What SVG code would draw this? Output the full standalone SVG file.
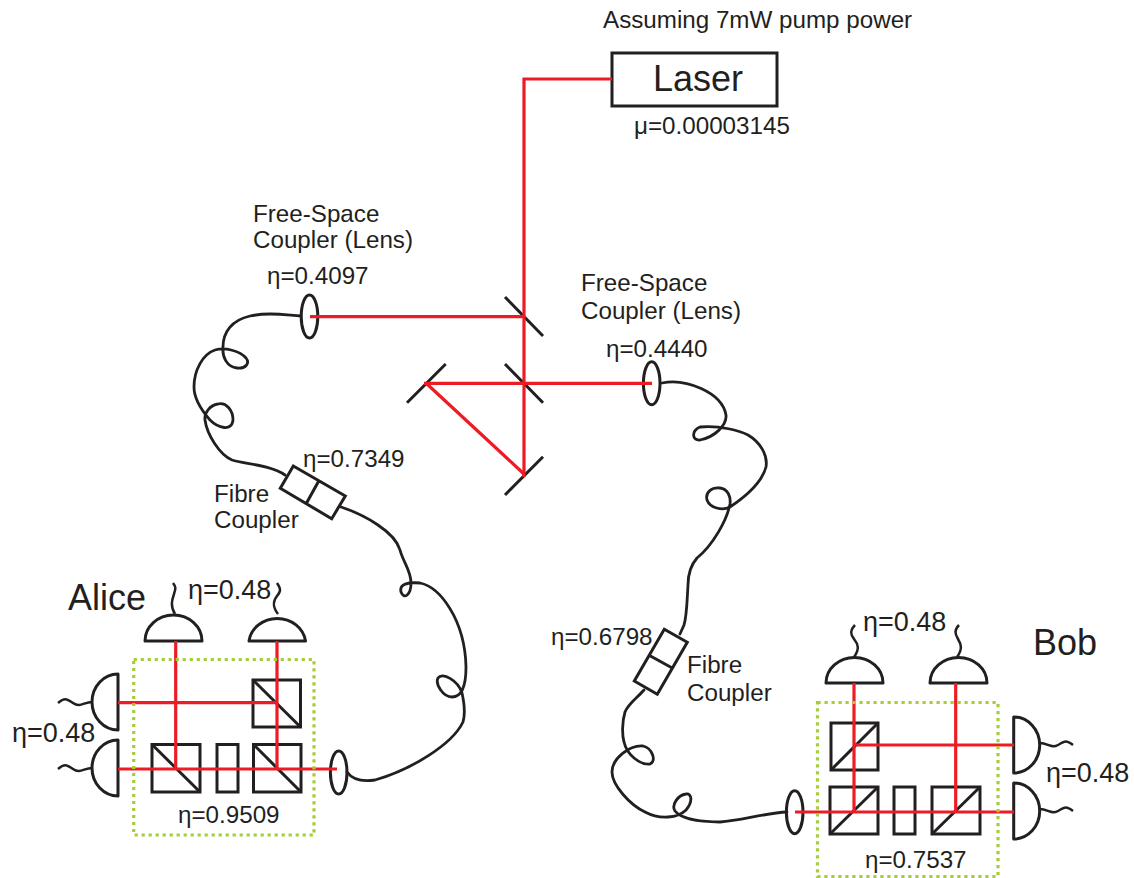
<svg xmlns="http://www.w3.org/2000/svg" width="1134" height="878" viewBox="0 0 1134 878">
<style>
text{font-family:"Liberation Sans",Arial,sans-serif;fill:#231f20;font-size:24.2px}
.big{font-size:36px}
.mid{font-size:27px}
.k{fill:none;stroke:#231f20;stroke-width:3px}
.d{fill:#fff;stroke:#231f20;stroke-width:3px;stroke-linejoin:round}
.w{fill:none;stroke:#231f20;stroke-width:2.5px}
.f{fill:none;stroke:#231f20;stroke-width:2.8px;stroke-linecap:round}
.r{fill:none;stroke:#ed1c24;stroke-width:3.2px}
.g{fill:none;stroke:#a6ce39;stroke-width:3.2px;stroke-dasharray:3.2 3.8}
</style>
<g id="fibres">
<path class="f" d="M301,316 C285,315 268,312 250,316 C232,320 223,332 223,347 C222,357 227,367 237,368 C246,369 250,363 246,358 C240,351 225,347 215,350 C203,354 194,370 194,387 C194,400 203,412 210,420 C218,428 232,432 233,420 C233,410 226,402 218,404 C210,405 204,413 205,420 C207,435 220,455 232,460 C245,464 270,465 285,475"/>
<path class="f" d="M341,507 C365,515 395,532 400,550 C403,562 411,570 411,583 C411,595 404,600 401,592 C399,584 408,582 420,583 C440,587 465,620 466,667 C466,685 462,697 452,697 C443,697 435,684 438,678 C442,672 458,680 462,693 C464,702 466,712 463,722 C452,745 410,770 375,780 C362,782 352,779 347,772"/>
<path class="f" d="M662,383 C685,378 722,392 726,415 C727,425 715,437 700,440 C692,441 691,431 700,427 C720,425 740,431 748,435 C760,442 768,455 766,467 C762,482 745,497 730,507 C722,511 710,508 707,500 C705,492 712,487 720,488 C728,489 731,497 730,504 C727,520 713,545 697,558 C690,566 688,575 688,585 C687,600 687,615 684,625 L680,634"/>
<path class="f" d="M644,690 C638,697 628,704 625,712 C622,722 622,735 624,742 C627,755 640,765 650,764 C657,761 652,748 643,746 C630,745 612,758 612,772 C612,785 630,805 645,812 C660,820 678,818 686,810 C693,802 692,793 686,794 C678,795 671,805 675,811 C682,820 705,822 720,822 C740,821 765,813 787,812"/>
</g>
<g id="laser"><rect class="k" x="612" y="53" width="165" height="53"/><text class="big" x="653" y="91">Laser</text></g>
<g id="lens-a"><ellipse class="k" cx="309.5" cy="316.5" rx="8.3" ry="21.5"/></g>
<g id="lens-b"><ellipse class="k" cx="651.7" cy="383.3" rx="8.3" ry="21.5"/></g>
<g id="lens-c"><ellipse class="k" cx="338.7" cy="772.5" rx="8.3" ry="21.5"/></g>
<g id="lens-d"><ellipse class="k" cx="794.7" cy="812.2" rx="8.3" ry="21.5"/></g>
<g id="mirrors">
<path class="k" d="M505,297 L543,336"/>
<path class="k" d="M505,364 L543,402.7"/>
<path class="k" d="M407,402.7 L445.7,364"/>
<path class="k" d="M505,495 L543,456.7"/>
</g>
<g id="coupler-a"><path class="k" d="M293.3,466 L345.3,496 L331.7,518.7 L280.3,488.3 Z M318.3,481.7 L306.7,502.7"/></g>
<g id="coupler-b"><path class="k" d="M664.3,629.3 L687.3,642.3 L657.3,694.3 L634.3,681 Z M650,655.7 L672.7,668.3"/></g>
<g id="alice-optics">
<rect class="k" x="253" y="680" width="47.5" height="47"/><path class="k" d="M253,680 L300.5,727"/>
<rect class="k" x="152" y="744.5" width="48" height="47.5"/><path class="k" d="M152,744.5 L200,792"/>
<rect class="k" x="217" y="744.5" width="21" height="47.5"/>
<rect class="k" x="253.5" y="744.5" width="47.5" height="47.5"/><path class="k" d="M253.5,744.5 L301,792"/>
</g>
<g id="bob-optics">
<rect class="k" x="831" y="723" width="47" height="47"/><path class="k" d="M831,770 L878,723"/>
<rect class="k" x="830" y="787" width="48" height="47"/><path class="k" d="M830,834 L878,787"/>
<rect class="k" x="894" y="787" width="21" height="47"/>
<rect class="k" x="932" y="787" width="48" height="47"/><path class="k" d="M932,834 L980,787"/>
</g>
<g id="alice-detectors">
<path class="d" d="M145,641 A28.5,26 0 0 1 202,641 Z"/><path class="w" d="M175,614 C170,606 172,600 174,594 S176,587 173,583"/>
<path class="d" d="M249,641 A28.5,26 0 0 1 305.5,641 Z"/><path class="w" d="M278,614 C272,606 273,601 277,596 S281,589 277,583"/>
<path class="d" d="M118,674 A26,28 0 0 0 118,730 Z"/><path class="w" d="M92,702 C84,702 80,708 73,703 S64,698 58,703"/>
<path class="d" d="M118,740 A26,28 0 0 0 118,796 Z"/><path class="w" d="M92,768 C84,768 80,774 73,769 S64,764 58,769"/>
</g>
<g id="bob-detectors">
<path class="d" d="M826,683 A28.5,25.5 0 0 1 883,683 Z"/><path class="w" d="M854,657 C860,649 858,644 854,639 S850,630 855,625"/>
<path class="d" d="M930,683 A28.5,25.5 0 0 1 987,683 Z"/><path class="w" d="M957,657 C963,649 961,644 958,639 S954,630 959,625"/>
<path class="d" d="M1013.7,717 A26,28 0 0 1 1013.7,773 Z"/><path class="w" d="M1040,743 C1048,743 1051,749 1058,745 S1066,740 1073,745"/>
<path class="d" d="M1013.7,783 A26,28 0 0 1 1013.7,839 Z"/><path class="w" d="M1040,809 C1048,809 1051,815 1058,811 S1066,806 1073,811"/>
</g>
<g id="beams">
<path class="r" d="M612,79 H524 V477"/>
<path class="r" d="M310,316.7 H524"/>
<path class="r" d="M424,383.3 H652"/>
<path class="r" d="M427,384 L524,474"/>
<path class="r" d="M175.7,641 V769"/>
<path class="r" d="M277,641 V769"/>
<path class="r" d="M118,702.7 H277"/>
<path class="r" d="M118,769 H337"/>
<path class="r" d="M854,683 V812"/>
<path class="r" d="M955.7,683 V812"/>
<path class="r" d="M854,745 H1014"/>
<path class="r" d="M795,812 H1014"/>
</g>
<g id="alice-box"><rect class="g" x="133.7" y="659.5" width="180.3" height="175.5"/></g>
<g id="bob-box"><rect class="g" x="817.5" y="702.5" width="180.5" height="174"/></g>
<g id="labels">
<text x="603" y="28">Assuming 7mW pump power</text>
<text x="634" y="134">μ=0.00003145</text>
<text x="253" y="222">Free-Space</text>
<text x="253" y="248">Coupler (Lens)</text>
<text x="267" y="284">η=0.4097</text>
<text x="581" y="291">Free-Space</text>
<text x="581" y="319">Coupler (Lens)</text>
<text x="606" y="357">η=0.4440</text>
<text x="303" y="467">η=0.7349</text>
<text x="214" y="502">Fibre</text>
<text x="214" y="528">Coupler</text>
<text x="551" y="645">η=0.6798</text>
<text x="687" y="673">Fibre</text>
<text x="687" y="701">Coupler</text>
<text class="big" x="68" y="610">Alice</text>
<text class="big" x="1033" y="655">Bob</text>
<text class="mid" x="188" y="599">η=0.48</text>
<text class="mid" x="12" y="742">η=0.48</text>
<text x="178" y="823">η=0.9509</text>
<text class="mid" x="863" y="631">η=0.48</text>
<text class="mid" x="1046" y="782">η=0.48</text>
<text x="865" y="868">η=0.7537</text>
</g>
</svg>
